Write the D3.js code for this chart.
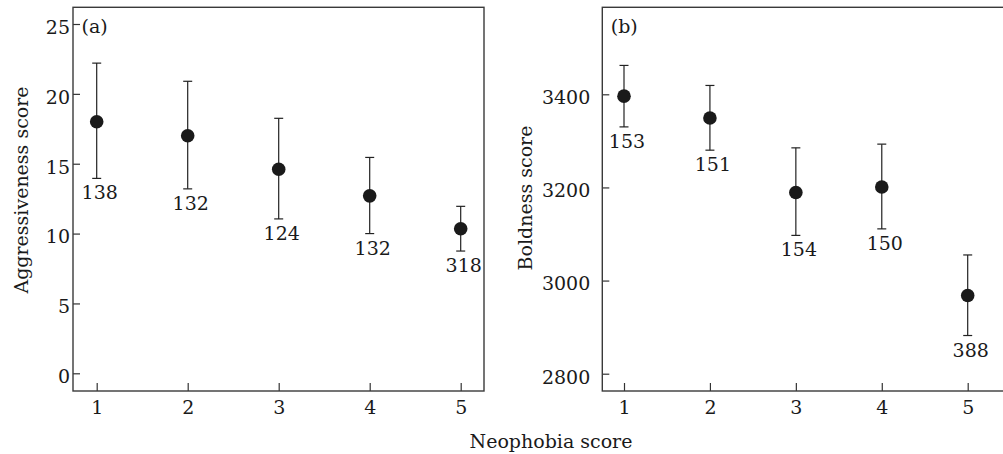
<!DOCTYPE html>
<html>
<head>
<meta charset="utf-8">
<script src="https://cdn.jsdelivr.net/npm/d3@7"></script>
<style>
  body { margin: 0; background: #fff; }
  svg text { font-family: "DejaVu Serif", serif; font-size: 19px; fill: #1a1a1a; }
  .tick line { stroke: #333; stroke-width: 1.2; }
</style>
</head>
<body>
<svg id="chart" width="1003" height="454"></svg>
<script>
// neophobia score categories
var neophobia = [1, 2, 3, 4, 5];

// panel (a): aggressiveness
var aggMean = [18.0, 17.0, 14.6, 12.7, 10.35];
var aggUpper = [22.2, 20.9, 18.25, 15.45, 11.95];
var aggLower = [13.95, 13.2, 11.05, 10.0, 8.75];
var aggN = [138, 132, 124, 132, 318];
var aggTicks = [0, 5, 10, 15, 20, 25];

// panel (b): boldness
var boldMean = [3396, 3349, 3189, 3201, 2968];
var boldUpper = [3462, 3419, 3285, 3293, 3055];
var boldLower = [3330, 3280, 3097, 3111, 2882];
var boldN = [153, 151, 154, 150, 388];
var boldTicks = [2800, 3000, 3200, 3400];

var svg = d3.select('#chart');
var frameTop = 7.3;
var frameBottom = 391;
var fmt = d3.format('d');

var panels = [
  {
    tag: '(a)', title: 'Aggressiveness score',
    left: 73, right: 484,
    x: d3.scaleLinear().domain([1, 5]).range([96.7, 460.7]),
    y: d3.scaleLinear().domain([0, 25]).range([373.3, 24]),
    ticks: aggTicks, tickPad: 3, titleX: 28, titleY: 190,
    mean: aggMean, upper: aggUpper, lower: aggLower, n: aggN
  },
  {
    tag: '(b)', title: 'Boldness score',
    left: 602.3, right: 1005,
    x: d3.scaleLinear().domain([1, 5]).range([624, 967.7]),
    y: d3.scaleLinear().domain([2800, 3400]).range([373.7, 94.3]),
    ticks: boldTicks, tickPad: 12, titleX: 531.5, titleY: 198,
    mean: boldMean, upper: boldUpper, lower: boldLower, n: boldN
  }
];

panels.forEach(function(p) {
  var g = svg.append('g');
  var data = neophobia.map(function(d, i) {
    return { x: d, mean: p.mean[i], upper: p.upper[i], lower: p.lower[i], n: p.n[i] };
  });

  // y axis, ticks pointing inwards
  var yAxis = g.append('g')
    .attr('transform', 'translate(' + p.left + ',0)')
    .call(d3.axisLeft(p.y).tickValues(p.ticks).tickFormat(fmt).tickSize(-7).tickPadding(p.tickPad));
  yAxis.select('.domain').remove();
  yAxis.selectAll('text').attr('dy', '0.49em');

  // x axis
  var xAxis = g.append('g')
    .attr('transform', 'translate(0,' + frameBottom + ')')
    .call(d3.axisBottom(p.x).tickValues(neophobia).tickFormat(fmt).tickSize(-8).tickPadding(9.5));
  xAxis.select('.domain').remove();

  // frame
  g.append('rect')
    .attr('x', p.left)
    .attr('y', frameTop)
    .attr('width', p.right - p.left)
    .attr('height', frameBottom - frameTop)
    .attr('fill', 'none')
    .attr('stroke', '#3a3a3a')
    .attr('stroke-width', 1.4);

  // error bars
  var bars = g.selectAll('.err').data(data).enter().append('g').classed('err', true);
  bars.append('line')
    .attr('x1', function(d) { return p.x(d.x); })
    .attr('x2', function(d) { return p.x(d.x); })
    .attr('y1', function(d) { return p.y(d.upper); })
    .attr('y2', function(d) { return p.y(d.lower); });
  bars.append('line')
    .attr('x1', function(d) { return p.x(d.x) - 4.5; })
    .attr('x2', function(d) { return p.x(d.x) + 4.5; })
    .attr('y1', function(d) { return p.y(d.upper); })
    .attr('y2', function(d) { return p.y(d.upper); });
  bars.append('line')
    .attr('x1', function(d) { return p.x(d.x) - 4.5; })
    .attr('x2', function(d) { return p.x(d.x) + 4.5; })
    .attr('y1', function(d) { return p.y(d.lower); })
    .attr('y2', function(d) { return p.y(d.lower); });
  bars.selectAll('line').attr('stroke', '#222').attr('stroke-width', 1.2);

  // means
  g.selectAll('.dot').data(data).enter().append('circle')
    .classed('dot', true)
    .attr('cx', function(d) { return p.x(d.x); })
    .attr('cy', function(d) { return p.y(d.mean); })
    .attr('r', 6.8)
    .attr('fill', '#1a1a1a');

  // sample sizes
  g.selectAll('.count').data(data).enter().append('text')
    .classed('count', true)
    .attr('x', function(d) { return p.x(d.x) + 3; })
    .attr('y', function(d) { return p.y(d.lower) + 21; })
    .style('text-anchor', 'middle')
    .text(function(d) { return d.n; });

  g.append('text')
    .attr('x', p.left + 8.5)
    .attr('y', 33)
    .text(p.tag);

  g.append('text')
    .attr('transform', 'translate(' + p.titleX + ',' + p.titleY + ') rotate(-90)')
    .style('text-anchor', 'middle')
    .text(p.title);
});

svg.append('text')
  .attr('x', 551)
  .attr('y', 448)
  .style('text-anchor', 'middle')
  .text('Neophobia score');
</script>
</body>
</html>
